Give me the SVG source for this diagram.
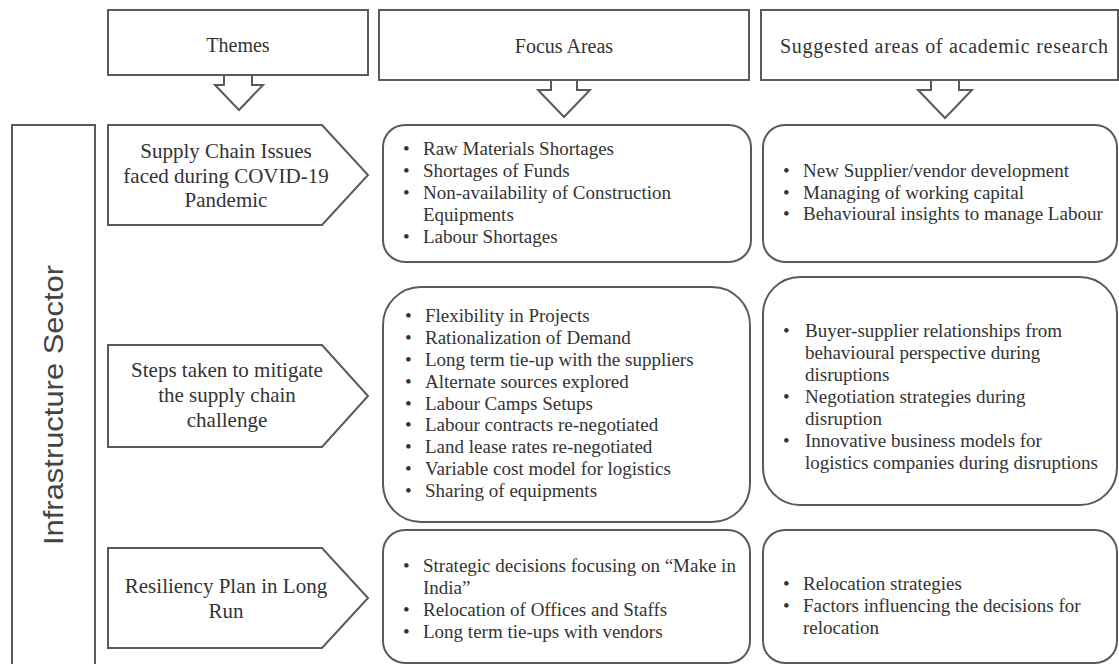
<svg xmlns="http://www.w3.org/2000/svg" width="1119" height="664" viewBox="0 0 1119 664">
<style>
.box{fill:#fff;stroke:#5a5a5a;stroke-width:2}
.arr{fill:#fff;stroke:#5a5a5a;stroke-width:2;stroke-linejoin:miter}
.hd{font-family:"Liberation Serif",serif;font-size:20px;fill:#333;text-anchor:middle}
.th{font-family:"Liberation Serif",serif;font-size:21px;fill:#333;text-anchor:middle}
.tx{font-family:"Liberation Serif",serif;font-size:19px;fill:#333}
.side{font-family:"Liberation Sans",sans-serif;font-size:27px;fill:#444;text-anchor:middle}
</style>
<rect width="1119" height="664" fill="#fff"/>

<g id="connectors">
<path class="arr" d="M224,75 V85 H215 L239,110 L263,85 H252 V75"/>
<path class="arr" d="M551,80 V90 H538 L564,117 L590,90 H577 V80"/>
<path class="arr" d="M931,80 V90 H918 L945,118 L972,90 H959 V80"/>
</g>

<g id="header-themes">
<rect class="box" x="108" y="10" width="260" height="65"/>
<text class="hd" x="238" y="52">Themes</text>
</g>
<g id="header-focus">
<rect class="box" x="379" y="10" width="370" height="70"/>
<text class="hd" x="564" y="53">Focus Areas</text>
</g>
<g id="header-research">
<rect class="box" x="761" y="10" width="357" height="70"/>
<text class="hd" x="944" y="53" textLength="328" lengthAdjust="spacing">Suggested areas of academic research</text>
</g>

<g id="sector">
<rect class="box" x="12" y="125" width="83" height="560"/>
<text class="side" transform="translate(63,405) rotate(-90)" textLength="280" lengthAdjust="spacingAndGlyphs">Infrastructure Sector</text>
</g>

<g id="theme-1">
<path class="box" d="M108,125 H322 L368,175 L322,225 H108 Z"/>
<text class="th" x="226" y="158">Supply Chain Issues</text>
<text class="th" x="226" y="183">faced during COVID-19</text>
<text class="th" x="226" y="207">Pandemic</text>
</g>
<g id="theme-2">
<path class="box" d="M108,345 H322 L368,396 L322,447 H108 Z"/>
<text class="th" x="227" y="377">Steps taken to mitigate</text>
<text class="th" x="227" y="402">the supply chain</text>
<text class="th" x="227" y="427">challenge</text>
</g>
<g id="theme-3">
<path class="box" d="M108,548 H322 L368,598 L322,648 H108 Z"/>
<text class="th" x="226" y="593">Resiliency Plan in Long</text>
<text class="th" x="226" y="618">Run</text>
</g>

<g id="focus-1">
<rect class="box" x="383" y="125" width="368" height="137" rx="22" ry="22"/>
<text class="tx" x="403" y="155">•</text><text class="tx" x="423" y="155">Raw Materials Shortages</text>
<text class="tx" x="403" y="177">•</text><text class="tx" x="423" y="177">Shortages of Funds</text>
<text class="tx" x="403" y="199">•</text><text class="tx" x="423" y="199">Non-availability of Construction</text>
<text class="tx" x="423" y="221">Equipments</text>
<text class="tx" x="403" y="243">•</text><text class="tx" x="423" y="243">Labour Shortages</text>
</g>
<g id="research-1">
<rect class="box" x="763" y="125" width="354" height="137" rx="22" ry="22"/>
<text class="tx" x="783" y="177">•</text><text class="tx" x="803" y="177">New Supplier/vendor development</text>
<text class="tx" x="783" y="198.5">•</text><text class="tx" x="803" y="198.5">Managing of working capital</text>
<text class="tx" x="783" y="220">•</text><text class="tx" x="803" y="220">Behavioural insights to manage Labour</text>
</g>

<g id="focus-2">
<rect class="box" x="383" y="287" width="367" height="235" rx="38" ry="38"/>
<text class="tx" x="405" y="322">•</text><text class="tx" x="425" y="322">Flexibility in Projects</text>
<text class="tx" x="405" y="344">•</text><text class="tx" x="425" y="344">Rationalization of Demand</text>
<text class="tx" x="405" y="366">•</text><text class="tx" x="425" y="366">Long term tie-up with the suppliers</text>
<text class="tx" x="405" y="388">•</text><text class="tx" x="425" y="388">Alternate sources explored</text>
<text class="tx" x="405" y="410">•</text><text class="tx" x="425" y="410">Labour Camps Setups</text>
<text class="tx" x="405" y="431">•</text><text class="tx" x="425" y="431">Labour contracts re-negotiated</text>
<text class="tx" x="405" y="453">•</text><text class="tx" x="425" y="453">Land lease rates re-negotiated</text>
<text class="tx" x="405" y="475">•</text><text class="tx" x="425" y="475">Variable cost model for logistics</text>
<text class="tx" x="405" y="497">•</text><text class="tx" x="425" y="497">Sharing of equipments</text>
</g>
<g id="research-2">
<rect class="box" x="763" y="277" width="354" height="228" rx="37" ry="37"/>
<text class="tx" x="783" y="337">•</text><text class="tx" x="805" y="337">Buyer-supplier relationships from</text>
<text class="tx" x="805" y="359">behavioural perspective during</text>
<text class="tx" x="805" y="381">disruptions</text>
<text class="tx" x="783" y="403">•</text><text class="tx" x="805" y="403">Negotiation strategies during</text>
<text class="tx" x="805" y="425">disruption</text>
<text class="tx" x="783" y="447">•</text><text class="tx" x="805" y="447">Innovative business models for</text>
<text class="tx" x="805" y="469">logistics companies during disruptions</text>
</g>

<g id="focus-3">
<rect class="box" x="383" y="530" width="367" height="133" rx="22" ry="22"/>
<text class="tx" x="403" y="572">•</text><text class="tx" x="423" y="572">Strategic decisions focusing on “Make in</text>
<text class="tx" x="423" y="594">India”</text>
<text class="tx" x="403" y="616">•</text><text class="tx" x="423" y="616">Relocation of Offices and Staffs</text>
<text class="tx" x="403" y="638">•</text><text class="tx" x="423" y="638">Long term tie-ups with vendors</text>
</g>
<g id="research-3">
<rect class="box" x="763" y="530" width="354" height="133" rx="22" ry="22"/>
<text class="tx" x="783" y="590">•</text><text class="tx" x="803" y="590">Relocation strategies</text>
<text class="tx" x="783" y="612">•</text><text class="tx" x="803" y="612">Factors influencing the decisions for</text>
<text class="tx" x="803" y="634">relocation</text>
</g>
</svg>
